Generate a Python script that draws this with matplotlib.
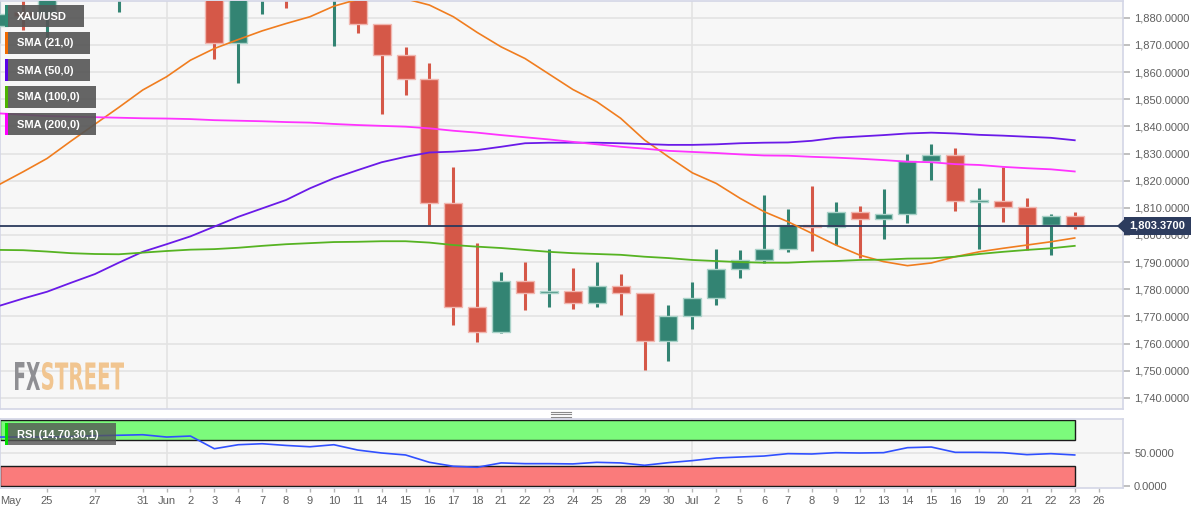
import numpy as np
import pandas as pd
import matplotlib
matplotlib.use('Agg')
import matplotlib.pyplot as plt
from matplotlib.patches import Rectangle, Polygon, PathPatch
from matplotlib.textpath import TextPath
from matplotlib.font_manager import FontProperties
from matplotlib.transforms import Affine2D, blended_transform_factory
from matplotlib.ticker import FuncFormatter

plt.rcParams['font.family'] = ['Liberation Sans', 'DejaVu Sans']

W, H = 1194, 513

# daily sessions on the chart, 21 May .. 23 Jul 2021
dates = pd.bdate_range('2021-05-21', '2021-07-23')
next_label_date = pd.Timestamp('2021-07-26')

opens = [1876.9, 1882.0, 1881.6, 1898.5, 1897.0, 1895.0, 1902.5, 1905.5, 1902.0, 1908.5,
         1870.8, 1891.0, 1899.0, 1893.0, 1888.0, 1898.5, 1877.7, 1866.3, 1857.5, 1811.7,
         1773.4, 1764.2, 1783.1, 1778.7, 1779.4, 1775.1, 1781.3, 1778.5, 1761.1, 1770.2,
         1776.7, 1787.6, 1790.9, 1794.7, 1803.6, 1802.9, 1808.5, 1806.0, 1807.6, 1827.1,
         1829.3, 1812.3, 1812.6, 1810.3, 1803.6, 1806.9]
highs = [1890.0, 1889.0, 1913.0, 1912.5, 1902.0, 1905.0, 1908.5, 1916.5, 1910.0, 1909.0,
         1895.0, 1903.0, 1903.5, 1900.0, 1903.0, 1903.0, 1877.9, 1869.2, 1863.3, 1825.0,
         1797.1, 1786.4, 1790.1, 1794.8, 1788.0, 1790.1, 1785.6, 1778.8, 1774.2, 1782.7,
         1794.8, 1794.5, 1814.7, 1809.6, 1818.0, 1812.1, 1810.7, 1816.9, 1829.8, 1833.7,
         1832.0, 1817.2, 1824.9, 1813.6, 1807.7, 1808.5]
lows = [1870.6, 1875.5, 1872.8, 1892.0, 1888.0, 1882.2, 1898.0, 1896.0, 1895.0, 1864.9,
        1856.1, 1881.3, 1883.8, 1887.0, 1869.7, 1874.5, 1844.7, 1851.7, 1803.6, 1766.9,
        1760.6, 1763.8, 1772.4, 1773.3, 1772.9, 1773.5, 1770.6, 1750.3, 1753.4, 1765.4,
        1774.2, 1784.2, 1789.8, 1793.9, 1794.2, 1796.3, 1791.7, 1798.5, 1804.5, 1820.2,
        1809.0, 1794.8, 1804.9, 1794.5, 1792.6, 1802.2]
closes = [1881.3, 1880.6, 1898.5, 1897.0, 1895.0, 1902.5, 1905.5, 1902.0, 1908.5, 1870.8,
          1891.0, 1899.0, 1893.0, 1888.0, 1898.5, 1877.7, 1866.3, 1857.5, 1811.7, 1773.4,
          1764.2, 1783.1, 1778.7, 1779.4, 1775.1, 1781.3, 1778.5, 1761.1, 1770.2, 1776.7,
          1787.6, 1790.9, 1794.7, 1803.6, 1802.9, 1808.5, 1806.0, 1807.6, 1827.1, 1829.3,
          1812.4, 1812.9, 1810.3, 1803.6, 1806.9, 1803.37]

sma21 = [1818.6, 1823.3, 1828.2, 1834.6, 1840.8, 1847.0, 1853.4, 1858.3, 1864.4, 1868.7,
         1872.0, 1875.2, 1877.9, 1880.4, 1884.3, 1886.8, 1888.0, 1887.0, 1884.7, 1880.4,
         1874.6, 1869.3, 1865.0, 1859.3, 1853.6, 1849.1, 1843.0, 1835.0, 1828.8, 1822.9,
         1819.0, 1813.5, 1808.6, 1804.9, 1800.6, 1796.3, 1792.6, 1790.2, 1788.7, 1789.7,
         1792.0, 1793.8, 1795.1, 1796.3, 1797.5, 1798.9]
sma50 = [1773.9, 1776.6, 1779.1, 1782.4, 1785.6, 1789.8, 1793.8, 1796.6, 1799.5, 1803.1,
         1806.7, 1809.8, 1812.9, 1817.2, 1820.9, 1823.9, 1826.8, 1828.8, 1830.4, 1830.7,
         1831.3, 1832.5, 1833.8, 1834.0, 1834.0, 1834.0, 1833.8, 1833.5, 1833.2, 1833.2,
         1833.4, 1833.8, 1834.0, 1834.1, 1834.7, 1835.8, 1836.3, 1836.8, 1837.4, 1837.7,
         1837.4, 1836.9, 1836.6, 1836.2, 1835.8, 1834.9]
sma100 = [1794.5, 1794.4, 1793.9, 1793.3, 1793.0, 1792.9, 1793.5, 1794.1, 1794.6, 1794.8,
          1795.3, 1796.0, 1796.6, 1797.0, 1797.4, 1797.5, 1797.7, 1797.7, 1797.2, 1796.3,
          1795.7, 1795.2, 1794.5, 1793.8, 1793.3, 1793.0, 1792.7, 1792.0, 1791.5, 1790.8,
          1790.4, 1790.0, 1789.8, 1789.8, 1790.2, 1790.4, 1790.8, 1790.9, 1791.3, 1791.4,
          1792.0, 1793.0, 1793.8, 1794.5, 1795.1, 1796.0]
sma200 = [1844.8, 1844.3, 1843.8, 1843.6, 1843.4, 1843.2, 1843.0, 1842.9, 1842.7, 1842.3,
          1842.1, 1841.9, 1841.6, 1841.4, 1840.9, 1840.5, 1840.2, 1839.9, 1839.3, 1838.4,
          1837.7, 1836.8, 1836.0, 1835.2, 1834.3, 1833.4, 1832.5, 1831.8, 1831.0, 1830.6,
          1830.2, 1829.7, 1829.3, 1829.2, 1828.8, 1828.5, 1828.1, 1827.6, 1827.0, 1826.8,
          1826.1, 1825.8, 1825.1, 1824.6, 1824.2, 1823.4]
rsi = [73.8, 73.8, 73.8, 74.5, 75.8, 76.5, 77.3, 73.8, 75.3, 56.0,
       62.1, 63.6, 61.0, 59.0, 62.1, 54.0, 49.5, 46.5, 35.3, 29.3,
       27.8, 34.4, 33.3, 33.3, 32.9, 35.3, 34.4, 30.8, 34.8, 37.9,
       41.9, 43.4, 44.9, 48.5, 48.0, 50.0, 49.5, 50.0, 57.6, 58.6,
       50.5, 50.5, 50.0, 47.0, 48.5, 46.5]
last_price = 1803.37

legend_names = ['XAU/USD', 'SMA (21,0)', 'SMA (50,0)', 'SMA (100,0)', 'SMA (200,0)']
legend_colors = ['#2e8b74', '#f06a00', '#5a00e6', '#4cb300', '#ff00ff']
legend_widths = [79, 85, 85, 91, 91]

bull, bear = '#338473', '#d55848'
bull_edge, bear_edge = '#a9d2c8', '#f1b7b0'
grid = '#e3e3e3'
spine = '#d3d6e6'
label_c = '#5f5f5f'

x = np.arange(len(dates))
xlim = (0.03, 47.02)


def fx(px):
    return px / W


def fy(py):
    return 1 - py / H


fig = plt.figure(figsize=(W / 100, H / 100), dpi=100, facecolor='white')
ax = fig.add_axes([0, fy(409), fx(1123), fy(1) - fy(409)])
ax2 = fig.add_axes([0, fy(487.5), fx(1123), fy(418.5) - fy(487.5)])

for a in (ax, ax2):
    a.set_facecolor('#f7f7f7')
    a.set_xlim(*xlim)
    for s in a.spines.values():
        s.set_color(spine)
        s.set_linewidth(1.2)
    a.yaxis.tick_right()
    # month separators
    for k, d in enumerate(dates):
        if d.day == 1:
            a.axvline(x[k], color=grid, lw=1.2, zorder=0)

# ---- price panel ----
ax.set_ylim(1735.9, 1886.2)
ax.set_yticks(np.arange(1740, 1881, 10))
ax.yaxis.set_major_formatter(FuncFormatter(lambda v, p: '{:,.4f}'.format(v)))
ax.tick_params(axis='y', colors='#b5b5b5', labelcolor=label_c, labelsize=8, length=5, width=1.2, pad=3)
ax.tick_params(axis='x', bottom=False, labelbottom=False)
for v in np.arange(1740, 1881, 10):
    ax.axhline(v, color=grid, lw=1.2, zorder=0)

o = np.array(opens)
c = np.array(closes)
up = c >= o
col = np.where(up, bull, bear)
ecol = np.where(up, bull_edge, bear_edge)
ax.vlines(x, lows, highs, colors=col, lw=2.2, zorder=2)
body = np.maximum(np.abs(c - o), 0.6)
ax.bar(x, body, bottom=np.minimum(o, c), width=0.75, color=col, edgecolor=ecol, linewidth=1, zorder=3)

ax.axhline(last_price, color='#2b3a5c', lw=1.3, zorder=4)

ax.plot(x, sma21, color='#f07d1f', lw=1.2, zorder=5)
ax.plot(x, sma50, color='#6a1ae8', lw=1.3, zorder=5)
ax.plot(x, sma100, color='#56b322', lw=1.3, zorder=5)
ax.plot(x, sma200, color='#ff33ff', lw=1.3, zorder=5)

# ---- rsi panel ----
ax2.set_ylim(-3, 102)
ax2.set_yticks([0, 50])
ax2.yaxis.set_major_formatter(FuncFormatter(lambda v, p: '{:.4f}'.format(v)))
ax2.tick_params(axis='y', colors='#b5b5b5', labelcolor=label_c, labelsize=8, length=5, width=1.2, pad=3)
ax2.axhline(50, color=grid, lw=1.2, zorder=0)
ax2.add_patch(Rectangle((xlim[0], 70), x[-1] - xlim[0], 30, facecolor='#7cfb7c', edgecolor='#1b1b1b', lw=1, zorder=1))
ax2.add_patch(Rectangle((xlim[0], 0), x[-1] - xlim[0], 30, facecolor='#fa7b7b', edgecolor='#1b1b1b', lw=1, zorder=1))
ax2.plot(x, rsi, color='#3050ff', lw=1.2, zorder=3)

tick_pos, tick_lab = [], []
for k, d in enumerate(list(dates) + [next_label_date]):
    if d.month == 5 and d.day in (21, 24, 26, 28):
        continue
    tick_pos.append(k)
    tick_lab.append(d.strftime('%b') if d.day == 1 else str(d.day))
ax2.set_xticks(tick_pos)
ax2.set_xticklabels(tick_lab)
ax2.tick_params(axis='x', colors='#b5b5b5', labelcolor=label_c, labelsize=8, length=3, width=1, pad=3)
ax2.text(0, -0.12, dates[1].strftime('%b'), transform=ax2.transAxes, ha='left', va='top',
         fontsize=8, color=label_c)

# ---- overlays drawn in pixel positions ----
def box(x0, y0, x1, y1, color, alpha=1.0, z=5):
    fig.patches.append(Rectangle((fx(x0), fy(y1)), fx(x1) - fx(x0), fy(y0) - fy(y1),
                                 transform=fig.transFigure, facecolor=color, edgecolor='none',
                                 alpha=alpha, zorder=z))

for k, (name, lc, wd) in enumerate(zip(legend_names, legend_colors, legend_widths)):
    top = 5 + 27 * k
    box(5, top, 5 + wd, top + 22, '#555555', alpha=0.9)
    box(5, top, 8, top + 22, lc, z=6)
    fig.text(fx(17), fy(top + 11.5), name, color='white', fontsize=8, fontweight='bold',
             va='center', ha='left', zorder=7)

box(5, 423, 116, 445, '#555555', alpha=0.8)
box(5, 423, 8, 445, '#00dd00', z=6)
fig.text(fx(17), fy(434.5), 'RSI (14,70,30,1)', color='white', fontsize=8, fontweight='bold',
         va='center', ha='left', zorder=7)

# last price tag
ly = 226
box(1124, ly - 9, 1191, ly + 9, '#2d3c5e', z=8)
fig.patches.append(Polygon([(fx(1117), fy(ly)), (fx(1124.5), fy(ly - 7)), (fx(1124.5), fy(ly + 7))],
                           closed=True, transform=fig.transFigure, facecolor='#2d3c5e',
                           edgecolor='none', zorder=8))
fig.text(fx(1157.5), fy(ly), '{:,.4f}'.format(last_price), color='white', fontsize=8,
         fontweight='bold', ha='center', va='center', zorder=9)

# panel resize handle
for yy in (411.5, 414, 416.5):
    fig.add_artist(plt.Line2D([fx(551), fx(571)], [fy(yy), fy(yy)], color='#8a8a8a', lw=0.8))

# FXSTREET watermark
def stamp(txt, x0, y0, x1, y1, color):
    fp = FontProperties(family=['Liberation Sans Narrow', 'DejaVu Sans'], weight='bold')
    tp = TextPath((0, 0), txt, size=1, prop=fp)
    ext = tp.get_extents()
    tr = (Affine2D().translate(-ext.x0, -ext.y0)
          .scale((fx(x1) - fx(x0)) / ext.width, (fy(y0) - fy(y1)) / ext.height)
          .translate(fx(x0), fy(y1)))
    fig.patches.append(PathPatch(tr.transform_path(tp), transform=fig.transFigure,
                                 facecolor=color, edgecolor='none', zorder=4))

stamp('FX', 15, 362, 40, 390, '#8f8f93')
stamp('STREET', 42, 362, 124, 390, '#f1c590')

fig.savefig('out.png', dpi=100, facecolor='white')
